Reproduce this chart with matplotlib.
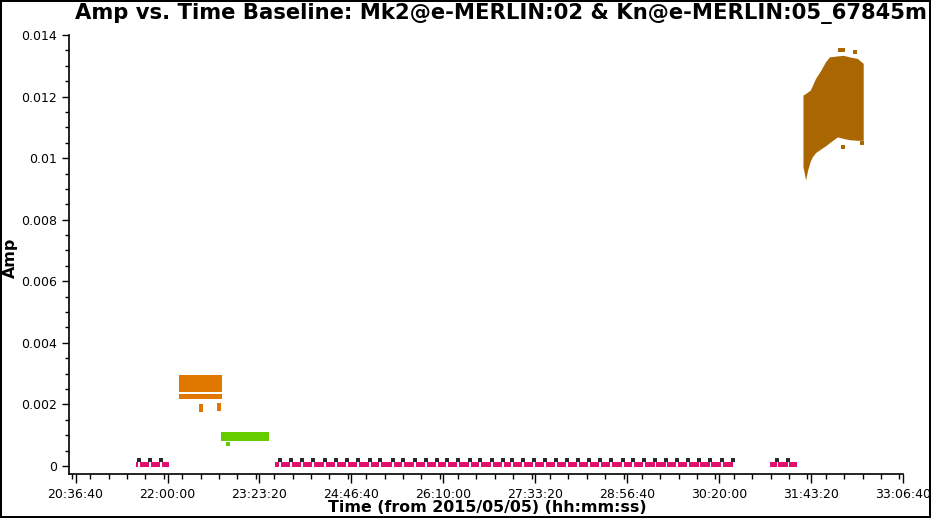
import matplotlib

matplotlib.use("Agg")
import matplotlib.pyplot as plt
import numpy as np
from matplotlib.ticker import FuncFormatter, MultipleLocator

# ---- data (times in decimal hours from 2015/05/05 00:00) ----
# phase-calibrator visits (dark points)
CAL_TIMES = [
    21.569, 21.736, 21.902,
    23.700, 23.866, 24.032, 24.199, 24.380, 24.546, 24.713, 24.879, 25.060, 25.212,
    25.408, 25.560, 25.741, 25.907, 26.074, 26.225, 26.391, 26.572, 26.723, 26.905, 27.071,
    27.207, 27.373, 27.540, 27.706, 27.872, 28.038, 28.205, 28.371, 28.537, 28.704, 28.885,
    29.036, 29.202, 29.369, 29.535, 29.701, 29.867, 30.034, 30.200, 30.381, 30.548,
    31.213, 31.379,
]
CAL_AMP = 0.000195

# target scan groups (pink), start / end
TARGET_START = [21.524, 23.625, 31.107]
TARGET_END = [22.023, 30.560, 31.515]
TARGET_LO = -0.00003
TARGET_HI = 0.00013

# orange source: two amplitude bands plus a few strays
ORANGE_T = [22.175, 22.824]
ORANGE_BANDS = [(0.00239, 0.00296), (0.00216, 0.00235)]
ORANGE_STRAY_T = [22.509, 22.509, 22.509, 22.780, 22.780]
ORANGE_STRAY_A = [0.00195, 0.00189, 0.00183, 0.00198, 0.00185]

# green source
GREEN_T = [22.809, 23.534]
GREEN_LO, GREEN_HI = 0.00082, 0.00112
GREEN_STRAY_T = [22.915]
GREEN_STRAY_A = [0.00071]

# brown source: envelope of the point cloud
BROWN_T = [31.60, 31.64, 31.67, 31.71, 31.74, 31.79, 31.87, 31.94, 32.00,
           32.12, 32.21, 32.30, 32.42, 32.51]
BROWN_HI = [0.01205, 0.01210, 0.01215, 0.01221, 0.01235, 0.01259, 0.01286,
            0.01313, 0.01329, 0.01332, 0.01334, 0.01329, 0.01324, 0.01308]
BROWN_LO = [0.00972, 0.00929, 0.00961, 0.00990, 0.01004, 0.01018, 0.01030,
            0.01040, 0.01050, 0.01069, 0.01064, 0.01060, 0.01058, 0.01058]
BROWN_STRAY_T = [32.16, 32.21, 32.38, 32.21, 32.49]
BROWN_STRAY_A = [0.01350, 0.01350, 0.01345, 0.01036, 0.01049]

TITLE = "Amp vs. Time Baseline: Mk2@e-MERLIN:02 & Kn@e-MERLIN:05_67845m"
XLABEL = "Time (from 2015/05/05) (hh:mm:ss)"
YLABEL = "Amp"

PINK = "#e0106e"
DARK = "#2a2a2a"
ORANGE = "#e07800"
GREEN = "#66cc00"
BROWN = "#aa6600"


def sec(h):
    return np.asarray(h, dtype=float) * 3600.0


def hms(x, pos=None):
    s = int(round(x))
    return f"{s // 3600:02d}:{(s % 3600) // 60:02d}:{s % 60:02d}"


fig = plt.figure(figsize=(9.31, 5.18), dpi=100)
fig.patch.set_edgecolor("black")
fig.patch.set_linewidth(1.5)
ax = fig.add_axes([69 / 931, 1 - 474 / 518, (903 - 69) / 931, (474 - 35) / 518])

# target (pink) blocks split at each calibrator visit
cal = np.array(CAL_TIMES)
gap = 0.012
for t0, t1 in zip(TARGET_START, TARGET_END):
    inside = cal[(cal > t0) & (cal < t1)]
    edges = np.concatenate([[t0], inside, [t1]])
    for a, b in zip(edges[:-1], edges[1:]):
        left = a + gap if a != t0 else a
        right = b - gap if b != t1 else b
        ax.bar(sec(left), TARGET_HI - TARGET_LO, width=sec(right) - sec(left),
               bottom=TARGET_LO, align="edge", color=PINK, lw=0, zorder=2)

ax.scatter(sec(CAL_TIMES), [CAL_AMP] * len(CAL_TIMES), marker="s", s=12,
           color=DARK, lw=0, zorder=3)

for lo, hi in ORANGE_BANDS:
    ax.fill_between(sec(ORANGE_T), lo, hi, color=ORANGE, lw=0, zorder=2)
ax.scatter(sec(ORANGE_STRAY_T), ORANGE_STRAY_A, marker="s", s=5, color=ORANGE, lw=0)

ax.fill_between(sec(GREEN_T), GREEN_LO, GREEN_HI, color=GREEN, lw=0, zorder=2)
ax.scatter(sec(GREEN_STRAY_T), GREEN_STRAY_A, marker="s", s=5, color=GREEN, lw=0)

ax.fill_between(sec(BROWN_T), BROWN_LO, BROWN_HI, color=BROWN, lw=0, zorder=2)
ax.scatter(sec(BROWN_STRAY_T), BROWN_STRAY_A, marker="s", s=5, color=BROWN, lw=0)

ax.set_xlim(73840, 119200)
ax.set_ylim(-0.00026, 0.014)
ax.xaxis.set_minor_locator(MultipleLocator(1000))
ax.xaxis.set_major_formatter(FuncFormatter(hms))
ax.set_xticks(np.arange(74200, 119201, 5000))
ax.yaxis.set_major_locator(MultipleLocator(0.002))
ax.yaxis.set_minor_locator(MultipleLocator(0.0005))
ax.yaxis.set_major_formatter(FuncFormatter(lambda v, p: f"{v:g}"))

for side in ("top", "right"):
    ax.spines[side].set_visible(False)
for side in ("left", "bottom"):
    ax.spines[side].set_linewidth(1.2)
ax.tick_params(axis="both", which="both", direction="out", labelsize=9, width=1)
ax.tick_params(axis="y", which="major", length=5)
ax.tick_params(axis="y", which="minor", length=3)
ax.tick_params(axis="x", which="major", length=6.5)
ax.tick_params(axis="x", which="minor", length=3.6)

fig.text(501 / 931, 1 - 13 / 518, TITLE, ha="center", va="center",
         fontsize=15.2, fontweight="bold")
fig.text(487 / 931, 1 - 508 / 518, XLABEL, ha="center", va="center",
         fontsize=11.4, fontweight="bold")
fig.text(10 / 931, 1 - 258 / 518, YLABEL, ha="center", va="center",
         rotation=90, fontsize=11.4, fontweight="bold")

fig.savefig("out.png", dpi=100)
